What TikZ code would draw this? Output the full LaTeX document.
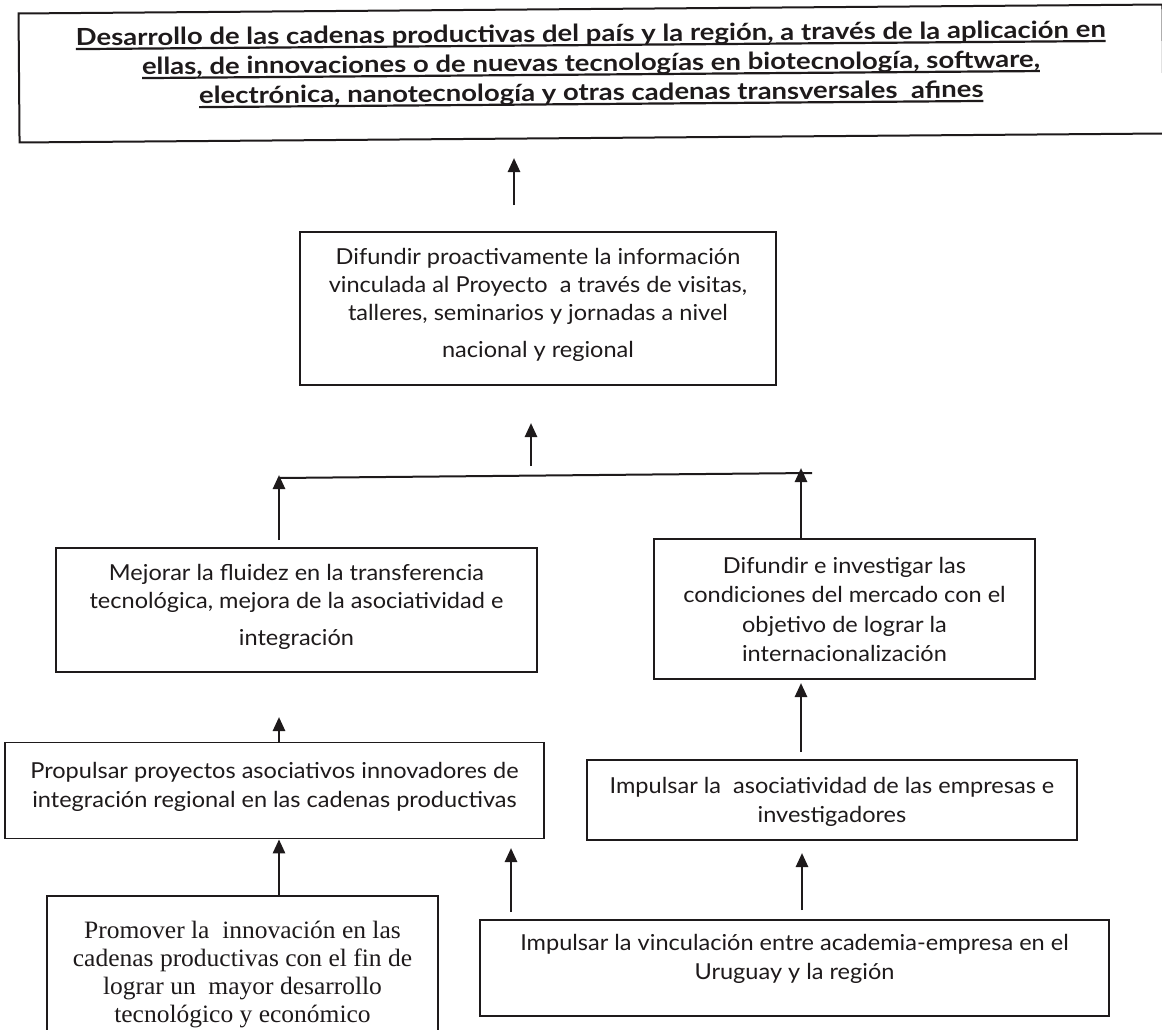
\documentclass[tikz,border=0pt]{standalone}
\usepackage{fontspec}
\setmainfont{Lato}[FakeStretch=1.07]
\newfontfamily\titlef{Lato}[FakeStretch=1.17]
\newfontfamily\serifbox{Liberation Serif}[FakeStretch=1.02]
\usetikzlibrary{arrows.meta}
\definecolor{ink}{RGB}{30,26,27}
% width, height, top gap, font setup, text
\newcommand\boxtxt[5]{\parbox[c][#2pt][t]{#1pt}{\centering #4\vspace*{#3pt}\strut #5}}
\newcommand\ttlul[1]{\leavevmode\setbox0=\hbox{#1}\rlap{\color{ink}\rule[-4.5pt]{\wd0}{2.2pt}}\box0}
\newcommand\fs[2]{\fontsize{#1pt}{#2pt}\selectfont}
\begin{document}
\begin{tikzpicture}[x=1pt,y=-1pt,
  box/.style={draw=ink, line width=1.7pt, inner sep=0pt, text=ink},
  arr/.style={draw=ink, line width=2.6pt, -{Triangle[length=14pt,width=12pt]}},
  joinline/.style={draw=ink, line width=2pt}]
\fill[white] (0,0) rectangle (1162,1030);
\useasboundingbox (0,0) rectangle (1162,1030);

\node[box, line width=2pt, rotate=0.45] (goal) at (591,73.5)
  {\boxtxt{1144}{129}{12}{\titlef\fs{23.5}{29.5}\bfseries}{\ttlul{Desarrollo de las cadenas productivas del país y la región, a través de la aplicación en}\\
   \ttlul{ellas, de innovaciones o de nuevas tecnologías en biotecnología, software,}\\
   \ttlul{electrónica, nanotecnología y otras cadenas transversales\ \ afines}}};

\node[box] (difu) at (538,308.5)
  {\boxtxt{476}{153}{12.4}{\fs{22}{28}}{Difundir proactivamente la información\\
   vinculada al Proyecto\ \ a través de visitas,\\
   talleres, seminarios y jornadas a nivel\\[9pt]
   nacional y regional}};

\node[box] (mejo) at (296.5,610)
  {\boxtxt{481}{124}{12.4}{\fs{22}{28}}{Mejorar la fluidez en la transferencia\\
   tecnológica, mejora de la asociatividad e\\[9pt]
   integración}};

\node[box] (inve) at (844.5,609)
  {\boxtxt{381}{140}{13.35}{\fs{22}{29.5}}{Difundir e investigar las\\
   condiciones del mercado con el\\
   objetivo de lograr la\\
   internacionalización}};

\node[box] (prop) at (274.5,790.5)
  {\boxtxt{539}{96}{15.7}{\fs{22}{29}}{Propulsar proyectos asociativos innovadores de\\
   integración regional en las cadenas productivas}};

\node[box] (asoc) at (832,800)
  {\boxtxt{490}{80}{12.7}{\fs{22}{29}}{Impulsar la\ \ asociatividad de las empresas e\\
   investigadores}};

\node[box] (prom) at (242.5,971)
  {\boxtxt{391}{150}{22.4}{\serifbox\fs{25}{28}}{Promover la\ \ innovación en las\\
   cadenas productivas con el fin de\\
   lograr un\ \ mayor desarrollo\\
   tecnológico y económico}};

\node[box] (vinc) at (794.5,968)
  {\boxtxt{629}{96}{9.7}{\fs{22}{29}}{Impulsar la vinculación entre academia-empresa en el\\
   Uruguay y la región}};

% free ends of connectors
\coordinate (cL) at (279,0);
\coordinate (cR) at (801,0);
\coordinate (t1) at (514,205);
\coordinate (t2) at (514,158);
\coordinate (m1) at (531,466);
\coordinate (m2) at (531,423);
\coordinate (jl) at (279,478);
\coordinate (jr) at (812,473);
\coordinate (ml) at (279,540);
\coordinate (mlt) at (279,475);
\coordinate (rt) at (801,468);
\coordinate (a5a) at (801,752);
\coordinate (a5b) at (801,683);
\coordinate (a7a) at (802,910);
\coordinate (a7b) at (802,853);
\coordinate (b7a) at (511,912);
\coordinate (b7b) at (511,848);
\coordinate (pt) at (279,717);

\draw[arr] (t1) -- (t2);
\draw[arr] (m1) -- (m2);
\draw[joinline] (jl) -- (jr);
\draw[arr] (ml) -- (mlt);
\draw[arr] (inve.north -| cR) -- (rt);
\draw[arr] (a5a) -- (a5b);
\draw[arr] (a7a) -- (a7b);
\draw[arr] (b7a) -- (b7b);
\draw[arr] (prom.north -| cL) -- (prop.south -| cL);
\draw[arr] (prop.north -| cL) -- (pt);
\end{tikzpicture}
\end{document}
